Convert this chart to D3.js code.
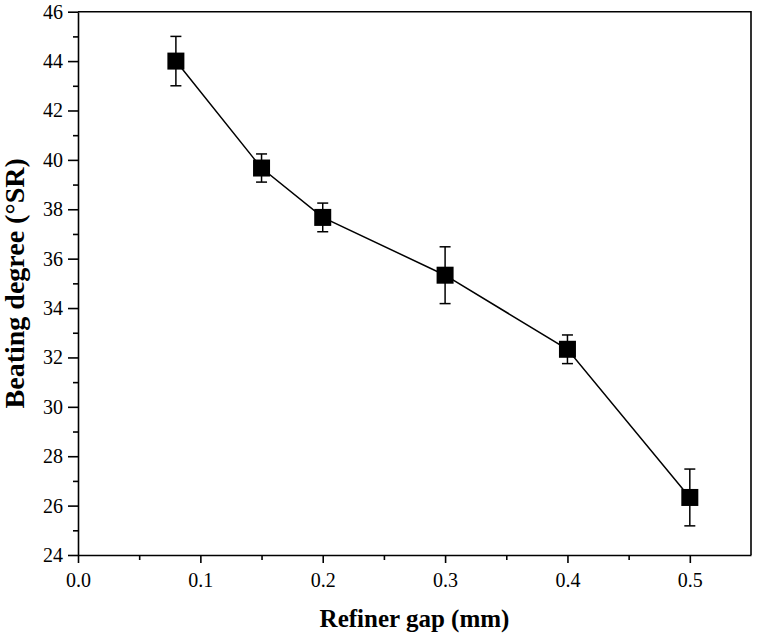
<!DOCTYPE html>
<html lang="en">
<head>
    <title>Beating degree</title>
    <script src="https://d3js.org/d3.v7.min.js"></script>
    <style>
        body { margin: 0; background: #fff; }
        svg text { font-family: "Times New Roman", "Liberation Serif", Tinos, "DejaVu Serif", serif; fill: #000; }
        .domain, .tick line { stroke: #000; stroke-width: 1.6; }
        .title { font-size: 25px; font-weight: bold; }
    </style>
</head>
<body>

<script>
    // refiner gap (mm), beating degree (°SR), error (±)
    const gap = [0.08, 0.15, 0.2, 0.3, 0.4, 0.5];
    const degree = [44.0, 39.67, 37.67, 35.33, 32.33, 26.33];
    const err = [1.0, 0.57, 0.58, 1.15, 0.58, 1.15];

    const xTicks = [0.0, 0.1, 0.2, 0.3, 0.4, 0.5];
    const yTicks = [24, 26, 28, 30, 32, 34, 36, 38, 40, 42, 44, 46];

    const pL = 78, pR = 751, pT = 11.7, pB = 555;
    const serif = '"Times New Roman", "Liberation Serif", Tinos, "DejaVu Serif", serif';

    const x = d3.scaleLinear().domain([0, 0.55]).range([pL, pR]);
    const y = d3.scaleLinear().domain([24, 46]).range([pB, pT]);

    const svg = d3.select("body").append("svg")
        .attr("width", 757).attr("height", 636);

    // minor ticks
    svg.append("g").attr("transform", `translate(0,${pB})`)
        .call(d3.axisBottom(x).tickValues(d3.range(0.05, 0.55, 0.1)).tickSize(5).tickFormat(""))
        .select(".domain").remove();
    svg.append("g").attr("transform", `translate(${pL},0)`)
        .call(d3.axisLeft(y).tickValues(d3.range(25, 46, 2)).tickSize(5).tickFormat(""))
        .select(".domain").remove();

    // major axes
    svg.append("g").attr("transform", `translate(0,${pB})`)
        .call(d3.axisBottom(x).tickValues(xTicks).tickSize(8).tickSizeOuter(0).tickPadding(10).tickFormat(d3.format(".1f")))
        .attr("font-family", serif).attr("font-size", 20);
    svg.append("g").attr("transform", `translate(${pL},0)`)
        .call(d3.axisLeft(y).tickValues(yTicks).tickSize(10).tickSizeOuter(0).tickPadding(5))
        .attr("font-family", serif).attr("font-size", 20);

    // frame top/right
    svg.append("path")
        .attr("d", `M${pL},${pT}H${pR}V${pB}`)
        .attr("fill", "none").attr("stroke", "#000").attr("stroke-width", 1.6);

    const pts = gap.map((g, i) => ({ g, v: degree[i], e: err[i] }));

    svg.append("path").datum(pts)
        .attr("fill", "none").attr("stroke", "#000").attr("stroke-width", 1.5)
        .attr("d", d3.line().x(d => x(d.g)).y(d => y(d.v)));

    const eb = svg.append("g").attr("stroke", "#000").attr("stroke-width", 1.5);
    pts.forEach(d => {
        const cx = x(d.g);
        eb.append("line").attr("x1", cx).attr("x2", cx).attr("y1", y(d.v + d.e)).attr("y2", y(d.v - d.e));
        eb.append("line").attr("x1", cx - 5.5).attr("x2", cx + 5.5).attr("y1", y(d.v + d.e)).attr("y2", y(d.v + d.e));
        eb.append("line").attr("x1", cx - 5.5).attr("x2", cx + 5.5).attr("y1", y(d.v - d.e)).attr("y2", y(d.v - d.e));
    });

    svg.append("g").selectAll("rect").data(pts).join("rect")
        .attr("x", d => x(d.g) - 8.5).attr("y", d => y(d.v) - 8.5)
        .attr("width", 17).attr("height", 17).attr("fill", "#000");

    svg.append("text").attr("class", "title")
        .attr("font-family", serif)
        .attr("x", (pL + pR) / 2).attr("y", 627).attr("text-anchor", "middle")
        .text("Refiner gap (mm)");
    svg.append("text").attr("class", "title")
        .attr("font-family", serif)
        .style("font-size", "28px")
        .attr("transform", `translate(24,${(pT + pB) / 2}) rotate(-90)`)
        .attr("text-anchor", "middle")
        .text("Beating degree (°SR)");
</script>

</body>
</html>
